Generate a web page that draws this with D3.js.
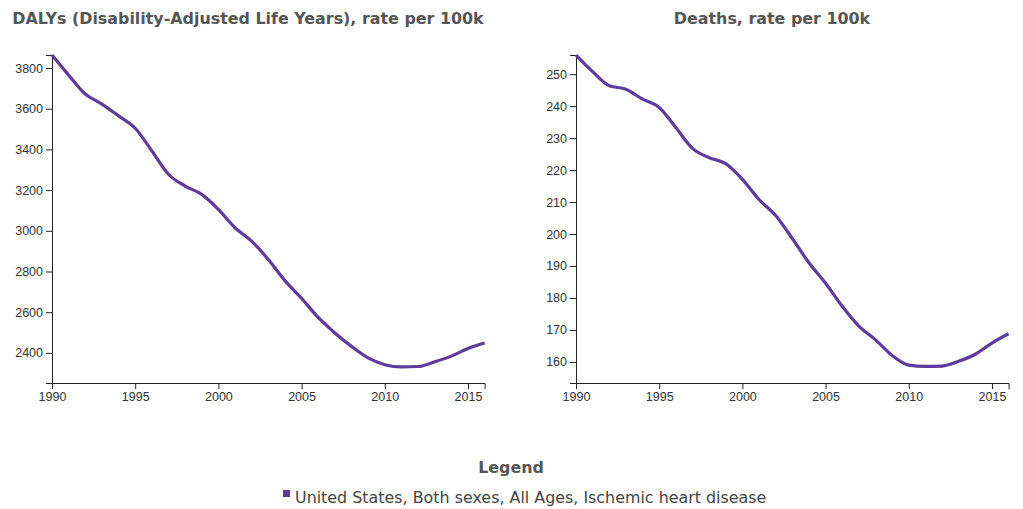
<!DOCTYPE html>
<html>
<head>
<meta charset="utf-8">
<title>DALYs and Deaths</title>
<script src="https://cdn.jsdelivr.net/npm/d3@7"></script>
<style>
  body { margin: 0; background: #fff; }
  .tick text { font-family: "Liberation Sans", Arial, sans-serif; font-size: 12.5px; fill: #333; }
  .domain, .tick line { stroke: #222; }
  .title { font-family: "DejaVu Sans", Verdana, sans-serif; font-weight: bold; font-size: 15.9px; fill: #555; }
</style>
</head>
<body>
<script>
var years = d3.range(1990, 2017);

// DALYs rate per 100k, 1990..2016
var dalys = [3864, 3765, 3672, 3623, 3565, 3504, 3393, 3278, 3220, 3179,
             3105, 3015, 2949, 2859, 2755, 2668, 2574, 2498, 2432, 2375,
             2342, 2331, 2333, 2356, 2384, 2422, 2449];

// Deaths rate per 100k, 1990..2016
var deaths = [256.0, 250.8, 246.4, 245.3, 242.2, 239.6, 233.3, 226.8, 223.9, 222.0,
              217.1, 210.8, 205.8, 198.6, 191.0, 184.6, 177.4, 171.2, 166.9, 162.0,
              159.0, 158.6, 158.7, 160.2, 162.4, 165.9, 168.8];

var dalysTicks = [2400, 2600, 2800, 3000, 3200, 3400, 3600, 3800];
var deathsTicks = [160, 170, 180, 190, 200, 210, 220, 230, 240, 250];
var yearTicks = [1990, 1995, 2000, 2005, 2010, 2015];

var legendLabel = "United States, Both sexes, All Ages, Ischemic heart disease";
var lineColor = "#5f3b9c";

var svg = d3.select("body").append("svg")
    .attr("width", 1023)
    .attr("height", 509);

function drawChart(ox, title, values, yDomain, yTicks) {
    var g = svg.append("g").attr("transform", "translate(" + ox + ",0)");
    var left = 52, right = 484.6, top = 55, bottom = 383;

    g.append("text")
        .attr("class", "title")
        .attr("x", 248)
        .attr("y", 24)
        .attr("text-anchor", "middle")
        .text(title);

    var x = d3.scaleLinear().domain([1990, 2016]).range([left, right]);
    var y = d3.scaleLinear().domain(yDomain).range([bottom, top]);

    g.append("g")
        .attr("transform", "translate(0," + bottom + ")")
        .call(d3.axisBottom(x).tickValues(yearTicks).tickFormat(d3.format("d")));

    g.append("g")
        .attr("transform", "translate(" + left + ",0)")
        .call(d3.axisLeft(y).tickValues(yTicks).tickFormat(d3.format("d")));

    var line = d3.line()
        .x(function (d, i) { return x(years[i]); })
        .y(function (d) { return y(d); })
        .curve(d3.curveMonotoneX);

    g.append("path")
        .datum(values)
        .attr("fill", "none")
        .attr("stroke", lineColor)
        .attr("stroke-width", 3.2)
        .attr("stroke-linejoin", "round")
        .attr("d", line);
}

drawChart(0, "DALYs (Disability-Adjusted Life Years), rate per 100k", dalys, [2252, 3864], dalysTicks);
drawChart(524, "Deaths, rate per 100k", deaths, [153.4, 256.0], deathsTicks);

// legend
svg.append("text")
    .attr("class", "title")
    .attr("x", 511)
    .attr("y", 473)
    .attr("text-anchor", "middle")
    .text("Legend");

var lg = svg.append("g");
lg.append("rect")
    .attr("x", 283)
    .attr("y", 490)
    .attr("width", 7)
    .attr("height", 7)
    .attr("fill", lineColor);
lg.append("text")
    .attr("x", 295)
    .attr("y", 503)
    .attr("font-family", "DejaVu Sans, Verdana, sans-serif")
    .attr("font-size", "15.9px")
    .attr("fill", "#444")
    .text(legendLabel);
</script>
</body>
</html>
